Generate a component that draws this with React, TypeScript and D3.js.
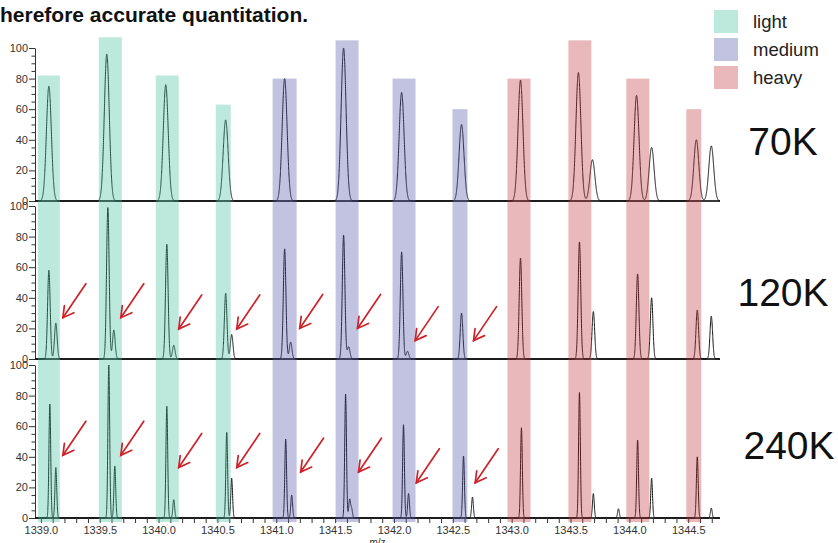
import React, { useEffect, useRef } from 'react';
import * as d3 from 'd3';

// isotope windows (m/z) and their box heights, in % of the 70K panel
const bandStart = [1338.975, 1339.492, 1339.976, 1340.486, 1340.969, 1341.504, 1341.988, 1342.497, 1342.964, 1343.482, 1343.974, 1344.484];
const bandEnd = [1339.161, 1339.688, 1340.171, 1340.613, 1341.173, 1341.699, 1342.183, 1342.624, 1343.16, 1343.677, 1344.17, 1344.611];
const bandTop = [82, 107, 82, 63, 80, 105, 80, 60, 80, 105, 80, 60];
const bandLabel = ['light', 'light', 'light', 'light', 'medium', 'medium', 'medium', 'medium', 'heavy', 'heavy', 'heavy', 'heavy'];

const labels = ['light', 'medium', 'heavy'];
const resolutions = ['70K', '120K', '240K'];

// centroids per resolution
const mz70 = [1339.068, 1339.56, 1340.061, 1340.57, 1341.071, 1341.572, 1342.065, 1342.574, 1343.075, 1343.567, 1343.686, 1344.061, 1344.189, 1344.569, 1344.696];
const int70 = [75, 96, 76, 53, 80, 100, 71, 50, 79, 84, 27, 69, 35, 40, 36];

const mz120 = [1339.068, 1339.127, 1339.569, 1339.62, 1340.07, 1340.129, 1340.57, 1340.621, 1341.071, 1341.122, 1341.572, 1341.615, 1342.065, 1342.115, 1342.574, 1343.075, 1343.576, 1343.694, 1344.07, 1344.189, 1344.577, 1344.696];
const int120 = [58, 23.5, 99, 19, 75, 9, 43, 16, 72, 11, 81, 8, 70, 5, 30, 66, 76.5, 31, 55.6, 40, 32, 28];

const mz240 = [1339.076, 1339.127, 1339.577, 1339.628, 1340.07, 1340.129, 1340.579, 1340.621, 1341.08, 1341.131, 1341.589, 1341.623, 1341.64, 1342.081, 1342.124, 1342.591, 1342.667, 1343.083, 1343.576, 1343.694, 1343.907, 1344.07, 1344.189, 1344.577, 1344.696];
const int240 = [74.5, 33, 100, 34, 73, 12, 56, 26, 51.6, 15, 81, 12, 6, 61, 16, 40.5, 13.7, 59, 82, 16, 6, 51, 26, 40, 6.5];

// arrow tips (m/z, %) in the 120K and 240K panels
const arrowMz120 = [1339.187, 1339.679, 1340.171, 1340.664, 1341.199, 1341.69, 1342.18, 1342.676];
const arrowInt120 = [27, 27, 19.6, 19.6, 20, 20, 12, 12];
const arrowMz240 = [1339.187, 1339.679, 1340.171, 1340.664, 1341.207, 1341.699, 1342.19, 1342.69];
const arrowInt240 = [41, 41, 33, 33, 30, 30, 23, 23];

const tickMz = d3.range(13390, 13448).map(v => v / 10);
const yTicks = d3.range(0, 101, 5);

const font = '"Liberation Sans", Arial, Helvetica, sans-serif';
const bandFill = { light: 'rgb(66,189,155)', medium: 'rgb(78,84,166)', heavy: 'rgb(192,52,58)' };

const App = () => {
  const ref = useRef(null);

  useEffect(() => {
    const svg = d3.select(ref.current);
    svg.selectAll('*').remove();

    const x = d3.scaleLinear().domain([1338.95, 1344.77]).range([35, 720]);
    const panels = [
      { mz: mz70, int: int70, sigma: 0.021, y: d3.scaleLinear().domain([0, 100]).range([201, 48]) },
      { mz: mz120, int: int120, sigma: 0.011, y: d3.scaleLinear().domain([0, 100]).range([359, 206]) },
      { mz: mz240, int: int240, sigma: 0.0075, y: d3.scaleLinear().domain([0, 100]).range([518, 365]) },
    ];

    // title fragment
    svg.append('text')
      .attr('x', 0).attr('y', 22)
      .attr('font-family', font).attr('font-size', 21).attr('font-weight', 'bold')
      .attr('fill', '#111')
      .text('herefore accurate quantitation.');

    const grid = d3.range(1338.95, 1344.77, 0.0005);

    panels.forEach((p, i) => {
      const g = svg.append('g');

      // baseline
      g.append('line')
        .attr('x1', x.range()[0]).attr('x2', x.range()[1])
        .attr('y1', p.y(0)).attr('y2', p.y(0))
        .attr('stroke', '#3a3a3a').attr('stroke-width', 2);

      // y axis
      const ya = g.append('g')
        .attr('transform', 'translate(35,0)')
        .call(d3.axisLeft(p.y).tickValues(yTicks).tickSizeInner(6).tickSizeOuter(0).tickPadding(1)
          .tickFormat(d => (d % 20 === 0 ? String(d) : '')));
      ya.select('.domain').attr('stroke', '#333');
      ya.selectAll('.tick line').attr('stroke', '#333').attr('x2', d => (d % 20 === 0 ? -6 : -3.5));
      ya.selectAll('text').attr('font-family', font).attr('font-size', 11).attr('fill', '#333');

      // profile spectrum
      const profile = grid.map(m => {
        let s = 0;
        p.mz.forEach((c, k) => {
          const z = (m - c) / p.sigma;
          if (Math.abs(z) < 6) s += p.int[k] * Math.exp(-0.5 * z * z);
        });
        return [m, s];
      });
      g.append('path')
        .datum(profile)
        .attr('fill', 'none')
        .attr('stroke', '#111')
        .attr('stroke-width', 1)
        .attr('stroke-linejoin', 'round')
        .attr('d', d3.line().x(d => x(d[0])).y(d => p.y(d[1])));

      // resolution label
      svg.append('text')
        .attr('x', [783, 783, 789][i]).attr('y', [155, 306, 459][i])
        .attr('text-anchor', 'middle')
        .attr('font-family', font).attr('font-size', 39).attr('fill', '#111')
        .text(resolutions[i]);
    });

    // x axis on the bottom panel
    const y3 = panels[2].y;
    const xa = svg.append('g')
      .attr('transform', `translate(0,${y3(0)})`)
      .call(d3.axisBottom(x).tickValues(tickMz).tickSize(5).tickPadding(3)
        .tickFormat(d => (Math.round(d * 10) % 5 === 0 ? d3.format('.1f')(d) : '')));
    xa.select('.domain').remove();
    xa.selectAll('.tick line').attr('stroke', '#333');
    xa.selectAll('text').attr('font-family', font).attr('font-size', 11).attr('fill', '#333');

    svg.append('text')
      .attr('x', (x.range()[0] + x.range()[1]) / 2).attr('y', 546)
      .attr('text-anchor', 'middle')
      .attr('font-family', font).attr('font-size', 10).attr('fill', '#333')
      .text('m/z');

    // translucent isotope windows over the spectra
    const y1 = panels[0].y;
    svg.append('g')
      .selectAll('rect')
      .data(bandStart.map((s, i) => ({ s, e: bandEnd[i], top: bandTop[i], label: bandLabel[i] })))
      .join('rect')
      .attr('x', d => x(d.s))
      .attr('width', d => x(d.e) - x(d.s))
      .attr('y', d => y1(d.top))
      .attr('height', d => y3(0) + 4 - y1(d.top))
      .attr('fill', d => bandFill[d.label])
      .attr('fill-opacity', 0.35);

    // arrows
    const arrows = [
      ...arrowMz120.map((m, i) => ({ px: x(m), py: panels[1].y(arrowInt120[i]) })),
      ...arrowMz240.map((m, i) => ({ px: x(m), py: panels[2].y(arrowInt240[i]) })),
    ];
    const ag = svg.append('g')
      .attr('stroke', '#cc2229').attr('stroke-width', 1.7).attr('fill', 'none').attr('stroke-linecap', 'round');
    arrows.forEach(a => {
      ag.append('line').attr('x1', a.px + 23).attr('y1', a.py - 34).attr('x2', a.px).attr('y2', a.py);
      ag.append('path').attr('d', `M${a.px + 11},${a.py - 5}L${a.px},${a.py}L${a.px + 1.5},${a.py - 12}`);
    });

    // legend
    const lg = svg.append('g').attr('transform', 'translate(714,10)');
    labels.forEach((l, i) => {
      lg.append('rect').attr('x', 0).attr('y', i * 28).attr('width', 24).attr('height', 23)
        .attr('fill', bandFill[l]).attr('fill-opacity', 0.35);
      lg.append('text').attr('x', 39).attr('y', i * 28 + 18)
        .attr('font-family', font).attr('font-size', 18.5).attr('fill', '#222')
        .text(l);
    });
  }, []);

  return (
    <div style={{ position: 'absolute', left: 0, top: 0 }}>
      <svg ref={ref} width={838} height={543} style={{ display: 'block', background: '#fff' }}></svg>
    </div>
  );
};

export default App;
